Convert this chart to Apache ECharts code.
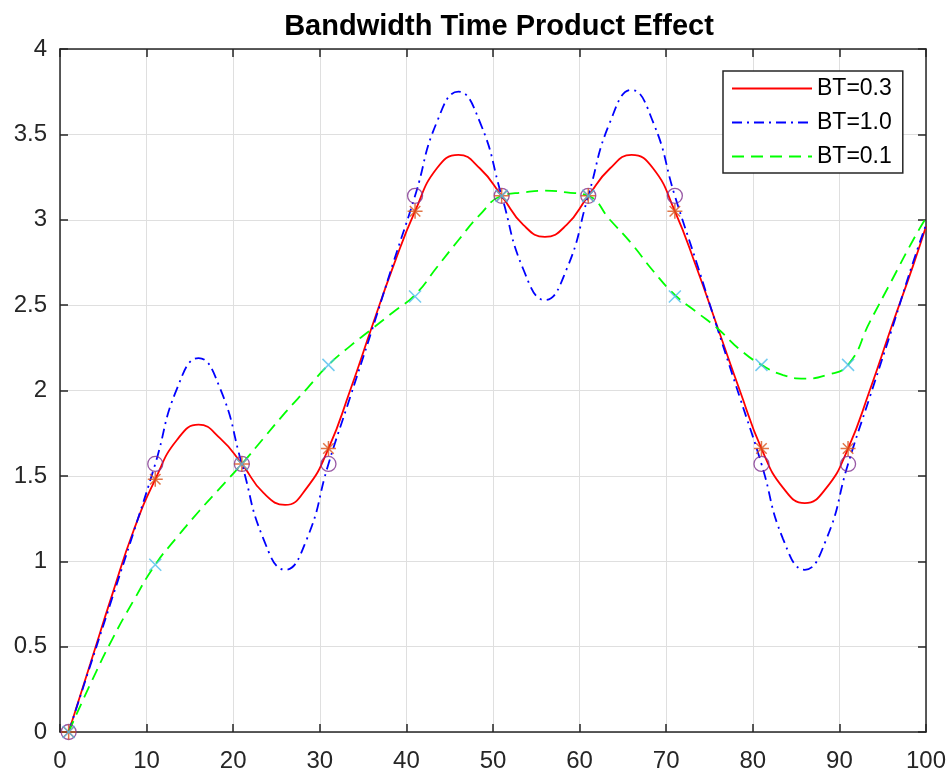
<!DOCTYPE html>
<html>
<head>
<meta charset="utf-8">
<script src="https://cdn.jsdelivr.net/npm/echarts@6/dist/echarts.min.js"></script>
<style>
html,body{margin:0;padding:0;background:#fff;}
#chart{width:951px;height:776px;}
</style>
</head>
<body>
<div id="chart"></div>
<script>
// Sample positions (x) for the continuous curves
const xs = [1, 3.5, 6, 8.5, 11, 13.5, 16, 18.5, 21, 23.5, 26, 28.5, 31, 33.5, 36, 38.5, 41, 43.5, 46, 48.5,
            51, 53.5, 56, 58.5, 61, 63.5, 66, 68.5, 71, 73.5, 76, 78.5, 81, 83.5, 86, 88.5, 91, 93.5, 96, 98.5, 100];
// BT=0.3 (red solid)
const bt03 = [0, 0.40, 0.80, 1.18, 1.48, 1.71, 1.80, 1.72, 1.57, 1.40, 1.33, 1.43, 1.66, 2.00, 2.37, 2.73, 3.05, 3.30, 3.38, 3.30,
              3.14, 2.97, 2.90, 2.97, 3.14, 3.30, 3.38, 3.30, 3.05, 2.72, 2.36, 2.00, 1.66, 1.43, 1.34, 1.43, 1.66, 2.00, 2.37, 2.73, 2.96];
// BT=1.0 (blue dash-dot)
const bt10 = [0, 0.39, 0.78, 1.17, 1.57, 2.01, 2.19, 2.01, 1.57, 1.13, 0.95, 1.13, 1.57, 1.96, 2.35, 2.75, 3.14, 3.57, 3.75, 3.57,
              3.14, 2.71, 2.53, 2.71, 3.14, 3.57, 3.76, 3.57, 3.14, 2.75, 2.35, 1.96, 1.57, 1.13, 0.95, 1.13, 1.57, 1.96, 2.35, 2.75, 2.97];
// BT=0.1 (green dashed)
const bt01 = [0, 0.28, 0.54, 0.77, 0.98, 1.14, 1.29, 1.43, 1.57, 1.72, 1.87, 2.01, 2.15, 2.26, 2.36, 2.46, 2.56, 2.72, 2.88, 3.03,
              3.14, 3.16, 3.17, 3.16, 3.14, 3.00, 2.86, 2.70, 2.56, 2.46, 2.36, 2.24, 2.15, 2.09, 2.07, 2.09, 2.15, 2.40, 2.64, 2.88, 3.01];
// Sample markers
const markerX = [1, 11, 21, 31, 41, 51, 61, 71, 81, 91];
const circleY = [0, 1.57, 1.57, 1.57, 3.14, 3.14, 3.14, 3.14, 1.57, 1.57];
const starY   = [0, 1.48, 1.57, 1.66, 3.05, 3.14, 3.14, 3.05, 1.66, 1.66];
const crossY  = [0, 0.98, 1.57, 2.15, 2.55, 3.14, 3.14, 2.55, 2.15, 2.15];
const seriesNames = ['BT=0.3', 'BT=1.0', 'BT=0.1'];
const chartTitle = 'Bandwidth Time Product Effect';

const FONT = '"Liberation Sans", Arial, Helvetica, sans-serif';
const AX = '#262626';
const pairs = (xa, ya) => xa.map((x, i) => [x, ya[i]]);

const chart = echarts.init(document.getElementById('chart'), null, {renderer: 'canvas'});
const axisCommon = {
  type: 'value',
  axisLine: {show: true, onZero: false, lineStyle: {color: AX, width: 1.5}},
  axisTick: {show: true, inside: true, length: 8, lineStyle: {color: AX, width: 1.5}},
};
chart.setOption({
  animation: false,
  backgroundColor: '#fff',
  title: {
    text: chartTitle, left: 494, top: 7, textAlign: 'center',
    textStyle: {fontFamily: FONT, fontSize: 29, fontWeight: 'bold', color: '#000'}
  },
  legend: {
    data: seriesNames, orient: 'vertical', left: 723, top: 71,
    padding: [6, 11, 5, 8], itemGap: 11, itemWidth: 80, itemHeight: 14,
    backgroundColor: '#fff', borderColor: AX, borderWidth: 1.5, borderRadius: 0,
    itemStyle: {opacity: 0},
    textStyle: {fontFamily: FONT, fontSize: 23, color: '#000'}
  },
  grid: {left: 60, right: 25, top: 49, bottom: 44, containLabel: false},
  xAxis: [
    Object.assign({}, axisCommon, {
      position: 'bottom', min: 0, max: 100, interval: 10,
      axisLabel: {margin: 17, fontFamily: FONT, fontSize: 24, color: AX},
      splitLine: {show: true, lineStyle: {color: '#DFDFDF', width: 1}}
    }),
    Object.assign({}, axisCommon, {
      position: 'top', min: 0, max: 100, interval: 10,
      axisLabel: {show: false}, splitLine: {show: false}
    })
  ],
  yAxis: [
    Object.assign({}, axisCommon, {
      position: 'left', min: 0, max: 4, interval: 0.5,
      axisLabel: {margin: 13, fontFamily: FONT, fontSize: 24, color: AX},
      splitLine: {show: true, lineStyle: {color: '#DFDFDF', width: 1}}
    }),
    Object.assign({}, axisCommon, {
      position: 'right', min: 0, max: 4, interval: 0.5,
      axisLabel: {show: false}, splitLine: {show: false}
    })
  ],
  series: [
    {name: seriesNames[0], type: 'line', data: pairs(xs, bt03), smooth: 0.5, symbol: 'none',
     lineStyle: {color: '#FF0000', width: 1.8, type: 'solid'}, itemStyle: {color: '#FF0000'}, z: 3},
    {name: seriesNames[1], type: 'line', data: pairs(xs, bt10), smooth: 0.5, symbol: 'none',
     lineStyle: {color: '#0000FF', width: 1.8, type: [10, 5, 2, 5]}, itemStyle: {color: '#0000FF'}, z: 3},
    {name: seriesNames[2], type: 'line', data: pairs(xs, bt01), smooth: 0.5, symbol: 'none',
     lineStyle: {color: '#00FF00', width: 1.8, type: [12, 7]}, itemStyle: {color: '#00FF00'}, z: 3},
    {name: 'samples1', type: 'scatter', data: pairs(markerX, circleY), symbol: 'circle', symbolSize: 15,
     itemStyle: {color: 'rgba(0,0,0,0)', borderColor: '#7E2F8E', borderWidth: 1.3}, z: 5},
    {name: 'samples2', type: 'scatter', data: pairs(markerX, starY),
     symbol: 'path://M0,-1L0,1M-1,0L1,0M-0.7,-0.7L0.7,0.7M-0.7,0.7L0.7,-0.7', symbolSize: 15,
     itemStyle: {color: 'rgba(0,0,0,0)', borderColor: '#D95319', borderWidth: 1.5}, z: 5},
    {name: 'samples3', type: 'scatter', data: pairs(markerX, crossY),
     symbol: 'path://M-1,-1L1,1M-1,1L1,-1', symbolSize: 12,
     itemStyle: {color: 'rgba(0,0,0,0)', borderColor: '#4DBEEE', borderWidth: 1.5}, z: 5}
  ]
});
</script>
</body>
</html>
